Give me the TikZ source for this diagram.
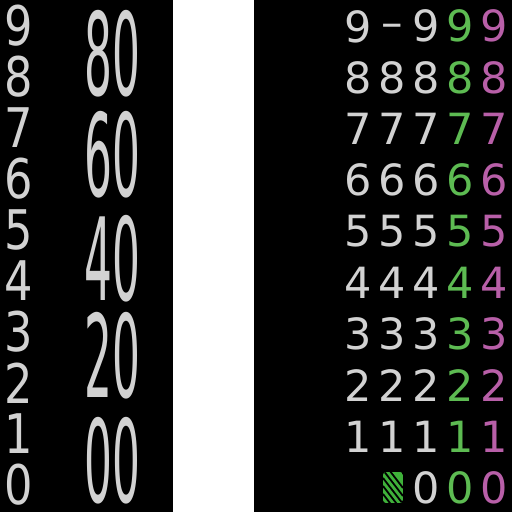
\documentclass[tikz,border=0pt]{standalone}
\usepackage{fontspec}
\setmainfont{DejaVu Sans}
\definecolor{digitgray}{HTML}{D2D2D2}
\definecolor{digitgreen}{HTML}{5DBB52}
\definecolor{digitpink}{HTML}{B85FA8}
\definecolor{swatchgreen}{HTML}{3FB13A}
\tikzset{
    digit/.style={inner sep=0pt,font=\fontsize{43}{43}\selectfont,text=digitgray},
    smalldigit/.style={digit,xscale=1.04,yscale=1.27},
    bigdigit/.style={digit,xscale=1.02,yscale=2.67}
}
\begin{document}
\begin{tikzpicture}[x=1pt,y=1pt]
    \useasboundingbox (0,0) rectangle (512,512);
    \fill[white] (0,0) rectangle (512,512);

    % pannelli neri
    \fill[black] (0,0) rectangle (173,512);
    \fill[black] (254,0) rectangle (512,512);

    % colonna di sinistra
    \foreach \d in {0,...,9}
        \node[smalldigit] (left\d) at (19,{27+51*\d}) {\d};

    % colonna grande
    \foreach \d/\y in {0/51,2/156,4/253,6/357,8/458}
        \node[bigdigit] (big\d) at (112.5,\y) {\d0};

    % colonne di destra
    \foreach \d in {1,...,8} {
        \node[digit] (a\d) at (358,{24+51.3*\d}) {\d};
        \node[digit] (b\d) at (392,{24+51.3*\d}) {\d};
    }
    \foreach \d in {1,...,9}
        \node[digit] (c\d) at (426,{24+51.3*\d}) {\d};
    \node[digit] (a9) at (358,485.5) {9};
    \node[digit,anchor=base] (b9) at (392,474.4) {–};
    \node[digit] (c0) at (426,24) {0};
    \foreach \d in {0,...,9} {
        \node[digit,text=digitgreen] (d\d) at (460,{24+51.3*\d}) {\d};
        \node[digit,text=digitpink] (e\d) at (494,{24+51.3*\d}) {\d};
    }

    % casella tratteggiata
    \begin{scope}
        \clip[rounded corners=3pt] (383,9) rectangle (403,40);
        \fill[swatchgreen] (383,9) rectangle (403,40);
        \foreach \s in {0,...,7}
            \draw[black,line width=1.8pt] (383,{50-8*\s}) -- ++(20,-26);
    \end{scope}
\end{tikzpicture}
\end{document}
